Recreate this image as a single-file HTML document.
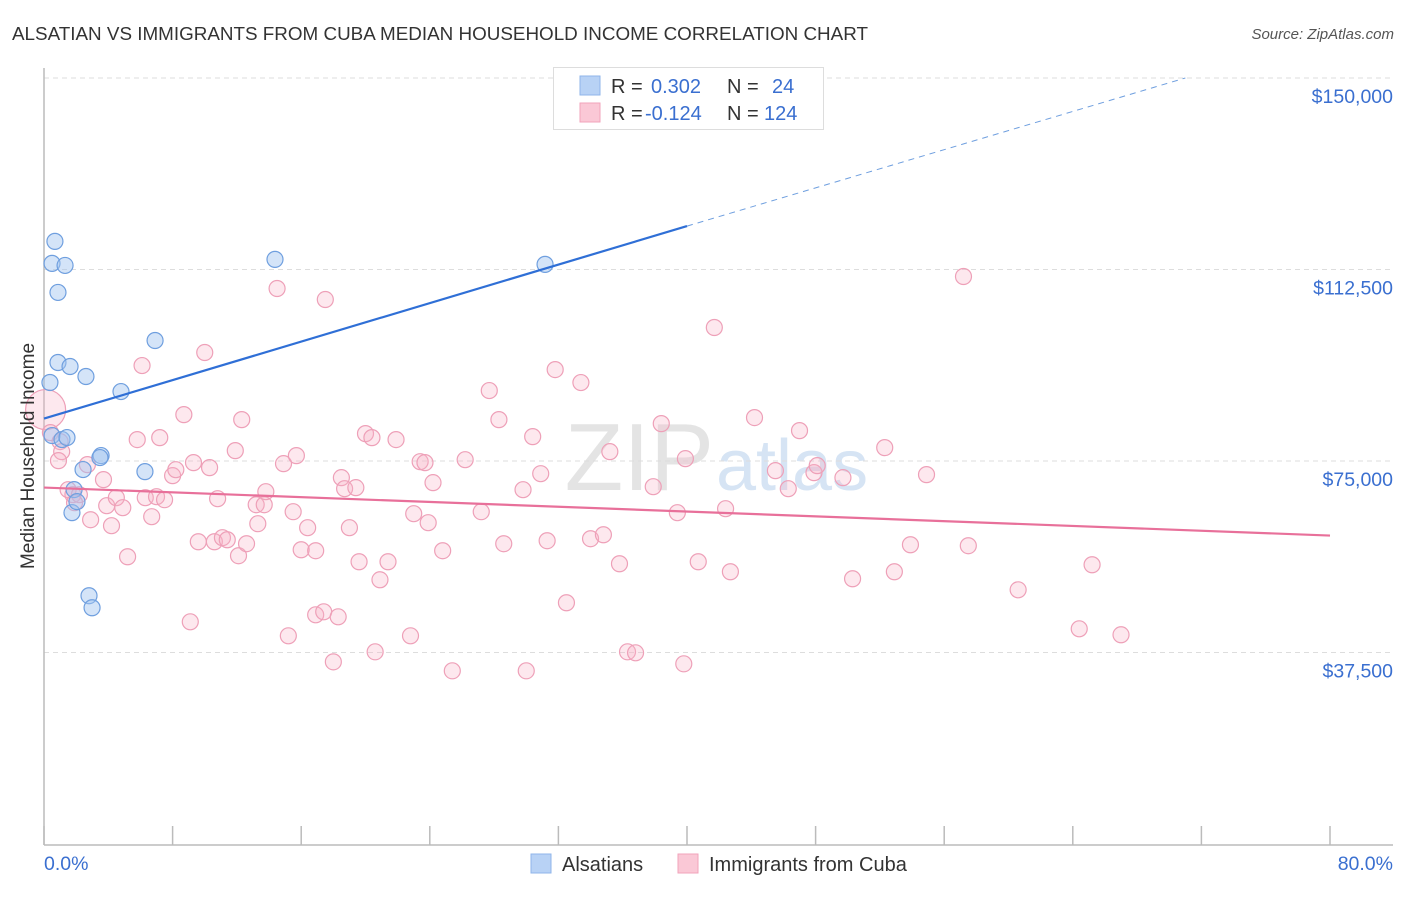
<!DOCTYPE html>
<html><head><meta charset="utf-8"><style>
body{margin:0;background:#fff;font-family:"Liberation Sans",sans-serif}
svg text{font-family:"Liberation Sans",sans-serif}
</style></head><body>
<svg id="chart" width="1406" height="892" viewBox="0 0 1406 892">
<text x="12" y="40" font-size="18" fill="#333" textLength="856" lengthAdjust="spacingAndGlyphs">ALSATIAN VS IMMIGRANTS FROM CUBA MEDIAN HOUSEHOLD INCOME CORRELATION CHART</text>
<text x="1394" y="39" font-size="15" fill="#555" font-style="italic" text-anchor="end">Source: ZipAtlas.com</text>
<text x="714" y="490" font-size="96" fill="#e4e4e4" text-anchor="end" font-family="Liberation Serif">ZIP</text>
<text x="716" y="490" font-size="72" fill="#d6e4f4">atlas</text>
<g id="grid"></g><g id="axes"></g><g id="marks"></g>
<text transform="translate(34,456) rotate(-90)" font-size="19" fill="#333" text-anchor="middle">Median Household Income</text>
<text x="44" y="870" font-size="19.5" fill="#3a6fd0">0.0%</text>
<text x="1393" y="870" font-size="19.5" fill="#3a6fd0" text-anchor="end">80.0%</text>
<g>
<rect x="553.5" y="67.5" width="270" height="62" fill="#fff" stroke="#ddd"/>
<rect x="580" y="76" width="20" height="19" fill="#b8d2f5" stroke="#8fb4ea"/>
<rect x="580" y="103" width="20" height="19" fill="#fac8d6" stroke="#f1a3bb"/>
<text x="611" y="93" font-size="20" fill="#333">R =</text><text x="651" y="93" font-size="20" fill="#3a6fd0">0.302</text>
<text x="727" y="93" font-size="20" fill="#333">N =</text><text x="772" y="93" font-size="20" fill="#3a6fd0">24</text>
<text x="611" y="120" font-size="20" fill="#333">R =</text><text x="645" y="120" font-size="20" fill="#3a6fd0">-0.124</text>
<text x="727" y="120" font-size="20" fill="#333">N =</text><text x="764" y="120" font-size="20" fill="#3a6fd0">124</text>
</g>
<g>
<rect x="531" y="854" width="20" height="19" fill="#b8d2f5" stroke="#8fb4ea"/>
<text x="562" y="871" font-size="20" fill="#333">Alsatians</text>
<rect x="678" y="854" width="20" height="19" fill="#fac8d6" stroke="#f1a3bb"/>
<text x="709" y="871" font-size="20" fill="#333">Immigrants from Cuba</text>
</g>
</svg>
<script>
const yTicks=[37500,75000,112500,150000];
const yTickLabels=["$37,500","$75,000","$112,500","$150,000"];
const xTicks=[0,8,16,24,32,40,48,56,64,72,80];
const blueX=[0.68,0.5,1.31,0.87,6.91,14.37,31.17,0.87,1.62,2.61,0.37,4.79,0.5,1.12,1.43,3.55,3.48,2.43,6.28,1.87,1.74,2.05,2.8,2.99];
const blueY=[118010,113700,113300,108010,98600,114480,113500,94290,93500,91550,90370,88600,79980,79200,79590,76060,75670,73320,72920,69400,64890,67040,48620,46260];
const pinkX=[0.1,0.4,1.0,1.1,0.9,1.5,1.8,2.2,1.9,2.9,2.7,3.7,3.9,4.2,4.5,4.9,5.2,5.8,6.1,6.3,6.7,7.0,7.2,7.5,8.0,8.2,8.7,9.1,9.3,9.6,10.0,10.3,10.6,10.8,11.1,11.4,11.9,12.1,12.3,12.6,13.2,13.3,13.7,13.8,14.5,14.9,15.2,15.5,15.7,16.0,16.4,16.9,16.9,17.4,17.5,18.0,18.3,18.5,18.7,19.0,19.4,19.6,20.0,20.4,20.6,20.9,21.4,21.9,22.8,23.0,23.4,23.7,23.9,24.2,24.8,25.4,26.2,27.2,27.7,28.3,28.6,29.8,30.0,30.4,30.9,31.3,31.8,32.5,33.4,34.0,34.8,35.2,35.8,36.3,36.8,37.9,38.4,39.4,39.8,39.9,40.7,41.7,42.4,42.7,44.2,45.5,46.3,47.0,47.9,48.1,49.7,50.3,52.3,52.9,53.9,54.9,57.2,57.5,60.6,64.4,65.2,67.0];
const pinkY=[85070,80560,78800,76830,75070,69380,68400,68400,66840,63500,74290,71350,66250,62330,67820,65860,56250,79190,93690,67820,64100,68010,79580,67420,72130,73300,84080,43510,74680,59190,96240,73700,59190,67620,59980,59580,77030,56450,83100,58800,66440,62720,66440,68990,108780,74480,40770,65070,76050,57620,61940,57430,44880,45470,106620,35670,44490,71740,69580,61940,69780,55270,80360,79580,37630,51740,55270,79190,40770,64680,74870,74680,62920,70760,57430,33910,75260,65070,88790,83100,58800,69380,33910,79770,72520,59390,92900,47240,90360,59780,60560,76830,54880,37630,37440,69970,82320,64880,35280,75460,55270,101140,65660,53310,83500,73110,69580,80950,72720,74090,71740,51940,77620,53310,58600,72330,111130,58410,49780,42140,54680,40970];
const blueTrendX=[0,40,71];
const blueTrendY=[83300,121000,150000];
const pinkTrendX=[0,80];
const pinkTrendY=[69800,60400];

const NS="http://www.w3.org/2000/svg";
const X=v=>44+v*(1330-44)/80;
const Y=v=>844-v*(844-461)/75000;
function mk(tag,attrs,parent){const e=document.createElementNS(NS,tag);for(const k in attrs)e.setAttribute(k,attrs[k]);parent.appendChild(e);return e;}
const grid=document.getElementById('grid'),axes=document.getElementById('axes'),marks=document.getElementById('marks');
yTicks.forEach((t,i)=>{
  const l=mk('line',{x1:44,x2:1393,y1:Y(t),y2:Y(t),stroke:'#ddd','stroke-dasharray':'5,4'},grid);
  
  
  const tx=mk('text',{x:1393,y:Y(t)+25,'font-size':19.5,fill:'#3a6fd0','text-anchor':'end'},grid);
  tx.textContent=yTickLabels[i];
  
  
});
let a=mk('line',{x1:44,x2:44,y1:68,y2:845,stroke:'#bbb','stroke-width':1.5},axes);


a=mk('line',{x1:44,x2:1393,y1:845,y2:845,stroke:'#bbb','stroke-width':1.5},axes);


xTicks.forEach(t=>{const l=mk('line',{x1:X(t),x2:X(t),y1:826,y2:845,stroke:'#bbb','stroke-width':1.5},axes);
  
  });
pinkX.forEach((x,i)=>{const c=mk('circle',{cx:X(x),cy:Y(pinkY[i]),r:i===0?20:8,fill:'rgba(248,180,200,0.3)',stroke:'#eea0b8','stroke-width':1.2},marks);
  
  });
blueX.forEach((x,i)=>{const c=mk('circle',{cx:X(x),cy:Y(blueY[i]),r:8,fill:'rgba(160,196,240,0.45)',stroke:'#6f9fdf','stroke-width':1.2},marks);
  
  });
let t=mk('line',{x1:X(pinkTrendX[0]),y1:Y(pinkTrendY[0]),x2:X(pinkTrendX[1]),y2:Y(pinkTrendY[1]),stroke:'#e8709a','stroke-width':2.2},marks);


t=mk('line',{x1:X(blueTrendX[0]),y1:Y(blueTrendY[0]),x2:X(blueTrendX[1]),y2:Y(blueTrendY[1]),stroke:'#2f6fd6','stroke-width':2.2},marks);


t=mk('line',{x1:X(blueTrendX[1]),y1:Y(blueTrendY[1]),x2:X(blueTrendX[2]),y2:Y(blueTrendY[2]),stroke:'#6f9fdf','stroke-width':1,'stroke-dasharray':'6,5'},marks);


</script>
</body></html>
